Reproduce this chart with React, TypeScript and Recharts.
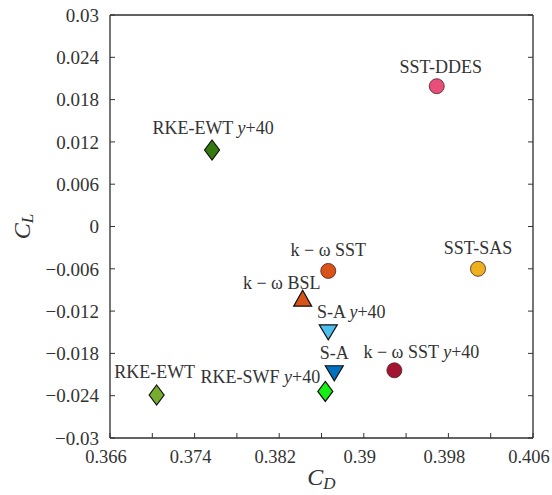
import React from 'react';
import { ScatterChart, Scatter, XAxis, YAxis, CartesianGrid, Label } from 'recharts';

const methods = [
  'SST-DDES',
  'RKE-EWT y+40',
  'k − ω SST',
  'SST-SAS',
  'k − ω BSL',
  'S-A y+40',
  'S-A',
  'RKE-SWF y+40',
  'k − ω SST y+40',
  'RKE-EWT',
];
const cdValues = [0.3969, 0.37565, 0.38664, 0.4008, 0.38422, 0.38664, 0.38721, 0.38636, 0.39289, 0.37041];
const clValues = [0.0199, 0.01085, -0.0063, -0.006, -0.0104, -0.0148, -0.0206, -0.0234, -0.0204, -0.0239];
const markerKinds = ['circle', 'diamond', 'circle', 'circle', 'triangleUp', 'triangleDown', 'triangleDown', 'diamond', 'circle', 'diamond'];
const markerColors = ['#E84E7A', '#357A0E', '#D95319', '#EDB120', '#D95319', '#4DBEEE', '#0072BD', '#14F014', '#A2142F', '#77AC30'];

const xTicks = [0.366, 0.37, 0.374, 0.378, 0.382, 0.386, 0.39, 0.394, 0.398, 0.402, 0.406];
const yTicks = [-0.03, -0.024, -0.018, -0.012, -0.006, 0, 0.006, 0.012, 0.018, 0.024, 0.03];

// label placement (style): offset of label centre relative to marker
const labelOffsets: Record<string, [number, number]> = {
  'SST-DDES': [4, -19],
  'RKE-EWT y+40': [1, -22],
  'k − ω SST': [0, -21],
  'SST-SAS': [0, -21],
  'k − ω BSL': [-21, -17],
  'S-A y+40': [23, -19],
  'S-A': [0, -19],
  'RKE-SWF y+40': [-65, -14],
  'k − ω SST y+40': [27, -18],
  'RKE-EWT': [-2, -23],
};

const data = methods.map((name, i) => ({
  name,
  cd: cdValues[i],
  cl: clValues[i],
  kind: markerKinds[i],
  color: markerColors[i],
}));

const FONT = '"Liberation Serif", "DejaVu Serif", serif';
const TEXT = '#333333';
const AXIS = '#333333';

const fmt = (v: number) => {
  const s = Number(v.toFixed(3)).toString();
  return s.replace('-', '−');
};

const renderLabelText = (name: string) => {
  if (name.endsWith(' y+40')) {
    const base = name.slice(0, -5);
    return (
      <>
        {base + ' '}
        <tspan fontStyle="italic">y</tspan>
        +40
      </>
    );
  }
  return name;
};

const PointShape = (props: any) => {
  const { cx, cy, payload } = props;
  if (cx == null || cy == null) return null;
  const off = labelOffsets[payload.name] || [0, -20];
  let marker: React.ReactNode;
  if (payload.kind === 'circle') {
    marker = <circle cx={cx} cy={cy} r={7.5} fill={payload.color} stroke="#4a2020" strokeWidth={0.8} />;
  } else if (payload.kind === 'diamond') {
    const w = 7.5, h = 10;
    marker = (
      <polygon
        points={`${cx},${cy - h} ${cx + w},${cy} ${cx},${cy + h} ${cx - w},${cy}`}
        fill={payload.color}
        stroke="#111"
        strokeWidth={1.2}
      />
    );
  } else if (payload.kind === 'triangleUp') {
    const w = 9, h = 16;
    marker = (
      <polygon
        points={`${cx},${cy - h * 0.6} ${cx + w},${cy + h * 0.4} ${cx - w},${cy + h * 0.4}`}
        fill={payload.color}
        stroke="#111"
        strokeWidth={1.2}
      />
    );
  } else {
    const w = 9, h = 15;
    marker = (
      <polygon
        points={`${cx - w},${cy - h * 0.4} ${cx + w},${cy - h * 0.4} ${cx},${cy + h * 0.6}`}
        fill={payload.color}
        stroke="#111"
        strokeWidth={1.2}
      />
    );
  }
  return (
    <g>
      {marker}
      <text
        x={cx + off[0]}
        y={cy + off[1]}
        textAnchor="middle"
        dominantBaseline="central"
        fontFamily={FONT}
        fontSize={18}
        fill={TEXT}
      >
        {renderLabelText(payload.name)}
      </text>
    </g>
  );
};

const YLabel = (props: any) => {
  const vb = props.viewBox || { x: 0, y: 15, width: 110, height: 423 };
  const x = vb.x + 22;
  const y = vb.y + vb.height / 2;
  return (
    <text
      x={x}
      y={y}
      transform={`rotate(-90, ${x}, ${y})`}
      textAnchor="middle"
      dominantBaseline="central"
      fontFamily={FONT}
      fill={TEXT}
    >
      <tspan fontSize={24} fontStyle="italic">C</tspan>
      <tspan fontSize={17} fontStyle="italic" dy={5}>L</tspan>
    </text>
  );
};

const XLabel = (props: any) => {
  const vb = props.viewBox || { x: 110, y: 438, width: 423, height: 57 };
  const x = vb.x + vb.width / 2;
  const y = vb.y + 47;
  return (
    <text x={x} y={y} textAnchor="middle" fontFamily={FONT} fill={TEXT}>
      <tspan fontSize={24} fontStyle="italic">C</tspan>
      <tspan fontSize={17} fontStyle="italic" dy={4}>D</tspan>
    </text>
  );
};

const tickStyle = { fontFamily: FONT, fontSize: 19, fill: TEXT };
const xTickStyle = { fontFamily: FONT, fontSize: 18.5, fill: TEXT, dx: -4 };

export default function App() {
  return (
    <div style={{ position: 'absolute', left: 0, top: 0, background: '#fff' }}>
      <ScatterChart width={552} height={495} margin={{ top: 14, right: 18, bottom: 0, left: 0 }}>
        <CartesianGrid stroke="#e2e2e2" strokeWidth={1} />
        <XAxis
          xAxisId="bottom"
          dataKey="cd"
          type="number"
          domain={[0.366, 0.406]}
          ticks={xTicks}
          interval={0}
          allowDataOverflow
          height={57}
          tickSize={-5}
          tickMargin={17}
          tickFormatter={(v: number, i: number) => (i % 2 === 0 ? fmt(v) : '')}
          tick={xTickStyle}
          axisLine={{ stroke: AXIS, strokeWidth: 1.3 }}
          tickLine={{ stroke: AXIS, strokeWidth: 1 }}
        >
          <Label content={<XLabel />} />
        </XAxis>
        <XAxis
          xAxisId="top"
          orientation="top"
          type="number"
          domain={[0.366, 0.406]}
          ticks={xTicks}
          interval={0}
          allowDataOverflow
          height={1}
          tickSize={-5}
          tickFormatter={() => ''}
          tick={tickStyle}
          axisLine={{ stroke: AXIS, strokeWidth: 1.3 }}
          tickLine={{ stroke: AXIS, strokeWidth: 1 }}
        />
        <YAxis
          yAxisId="left"
          dataKey="cl"
          type="number"
          domain={[-0.03, 0.03]}
          ticks={yTicks}
          interval={0}
          allowDataOverflow
          width={110}
          tickSize={-5}
          tickMargin={16}
          tickFormatter={(v: number) => fmt(v)}
          tick={tickStyle}
          axisLine={{ stroke: AXIS, strokeWidth: 1.3 }}
          tickLine={{ stroke: AXIS, strokeWidth: 1 }}
        >
          <Label content={<YLabel />} />
        </YAxis>
        <YAxis
          yAxisId="right"
          orientation="right"
          type="number"
          domain={[-0.03, 0.03]}
          ticks={yTicks}
          interval={0}
          allowDataOverflow
          width={1}
          tickSize={-5}
          tickFormatter={() => ''}
          tick={tickStyle}
          axisLine={{ stroke: AXIS, strokeWidth: 1.3 }}
          tickLine={{ stroke: AXIS, strokeWidth: 1 }}
        />
        <Scatter
          xAxisId="bottom"
          yAxisId="left"
          data={data}
          shape={<PointShape />}
          isAnimationActive={false}
        />
      </ScatterChart>
    </div>
  );
}
